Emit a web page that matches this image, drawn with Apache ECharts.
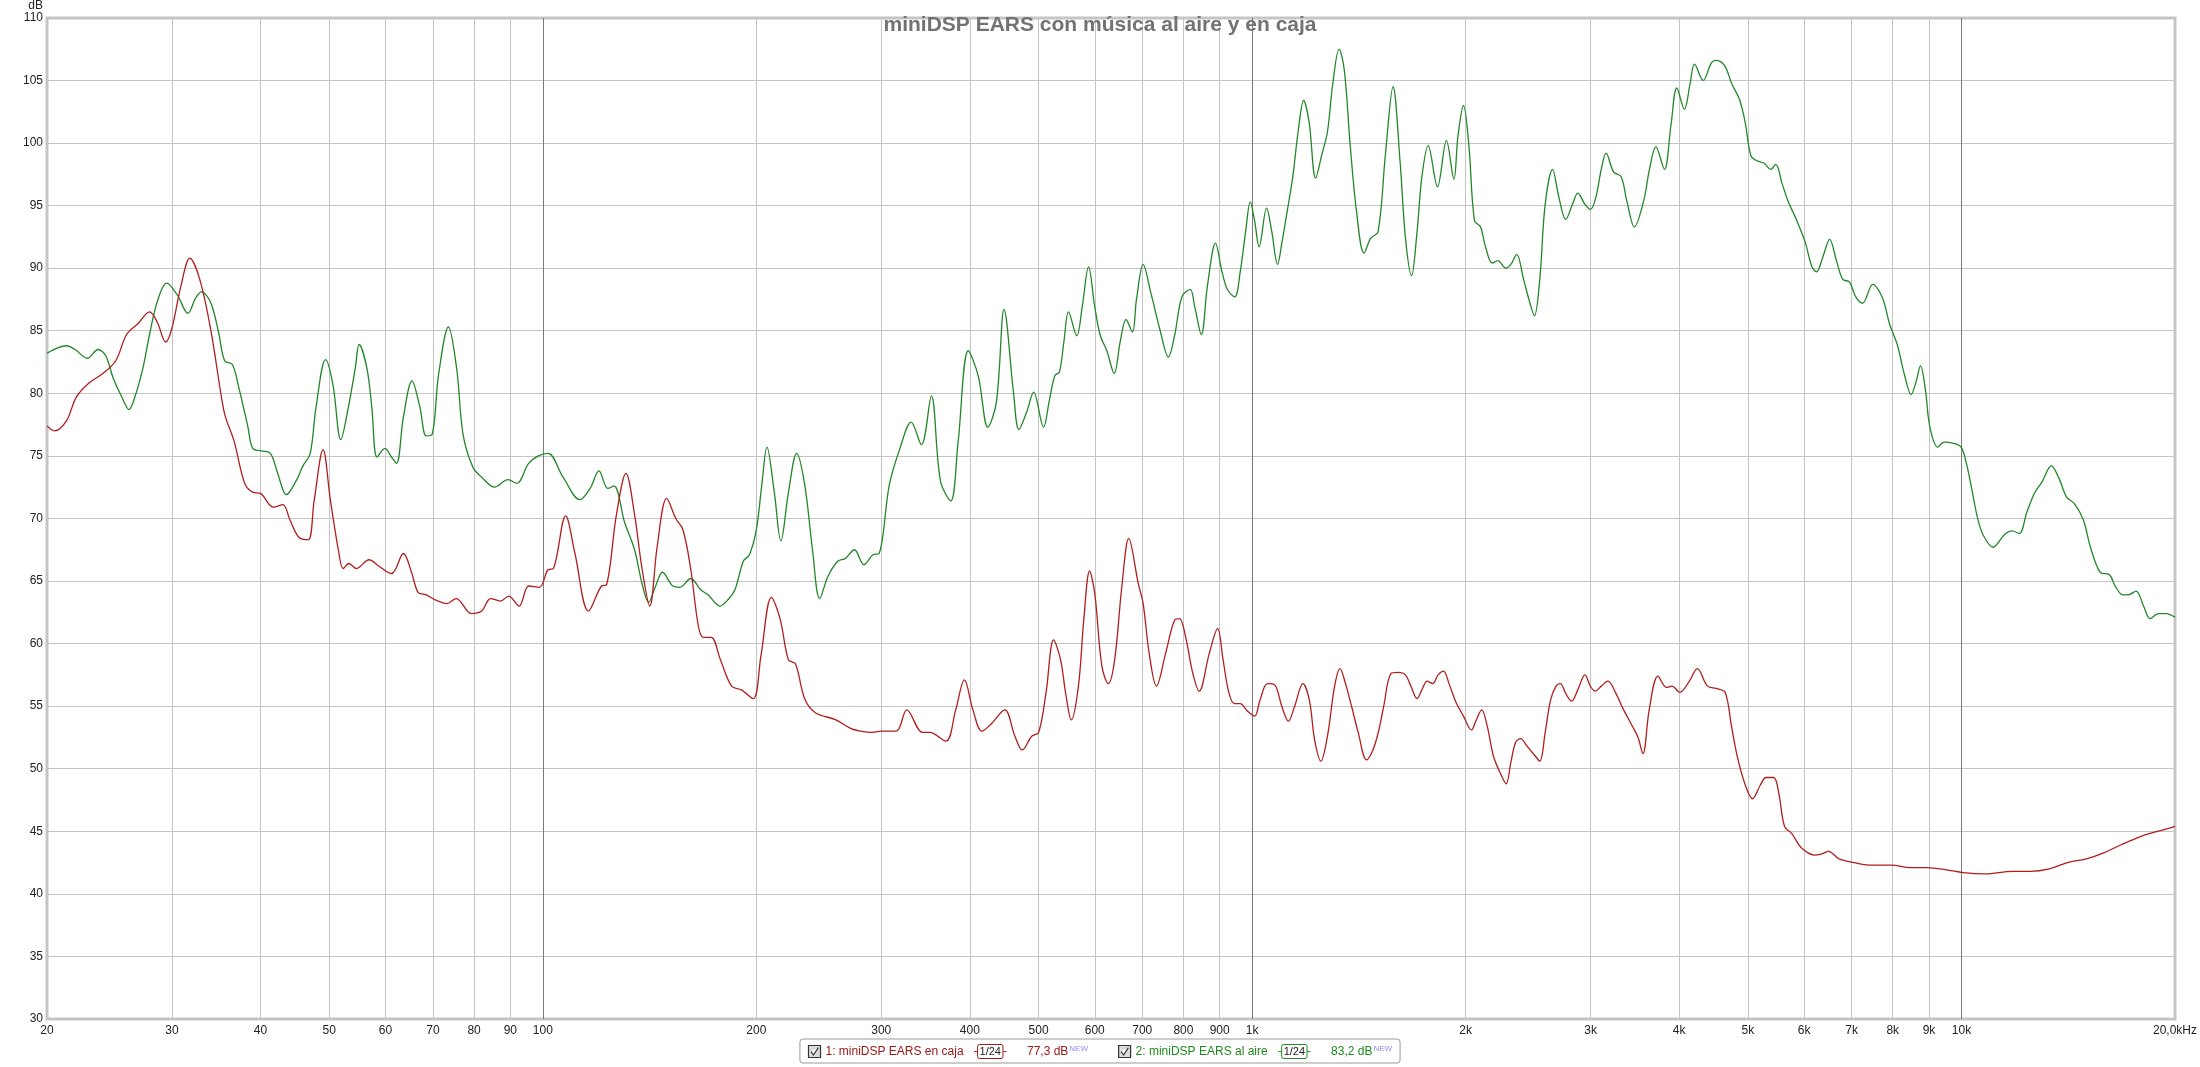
<!DOCTYPE html>
<html><head><meta charset="utf-8">
<script src="https://cdn.jsdelivr.net/npm/echarts@6/dist/echarts.min.js"></script>
<style>html,body{margin:0;padding:0;background:#fff}#c{width:2200px;height:1067px}</style>
</head><body><div id="c"></div>
<script>
const titleText = 'miniDSP EARS con música al aire y en caja';
const seriesNames = ['1: miniDSP EARS en caja', '2: miniDSP EARS al aire'];
const seriesLevels = ['77,3 dB', '83,2 dB'];
const tickFreqs = [20,30,40,50,60,70,80,90,100,200,300,400,500,600,700,800,900,1000,2000,3000,4000,5000,6000,7000,8000,9000,10000,20000];
const tickLabels = ['20','30','40','50','60','70','80','90','100','200','300','400','500','600','700','800','900','1k','2k','3k','4k','5k','6k','7k','8k','9k','10k','20,0kHz'];

const cajaFreq = [20,20.5,21.3,22,22.9,24,25,25.9,26.9,27.9,28.6,29.4,30,30.9,31.8,32.8,34,35.3,35.7,36.7,38,39,40,41.7,43,44,45.3,46.7,47.6,49,50.2,51.6,52.3,53.3,54.6,56.9,58.7,61.2,63.6,65.3,66.7,68.5,70.5,73.3,75.5,79.3,82,84.4,87.2,89.5,92.6,95.5,98.9,101.7,103.5,107.7,111,116,121,123,127,131,134.7,138,141.5,145,149.5,154,157.6,161.6,165.7,168.4,172.7,178,184.6,190.5,198,203,210,216,222,227,234,242,259,272,281,290,300,315,326,343,351,370,382,393,404,416,429,448,463,474,489,500,512,525,537,546,556,569,579,590,600,614,627,640,655,670,691,702,716,733,755,778,790,806,825,842,870,894,910,928,945,962,985,1008,1026,1051,1076,1101,1125,1148,1179,1204,1225,1250,1277,1307,1330,1354,1378,1411,1450,1480,1506,1533,1569,1606,1645,1674,1708,1735,1765,1797,1829,1861,1895,1935,1986,2038,2070,2107,2145,2189,2236,2281,2316,2352,2391,2441,2500,2544,2589,2635,2682,2720,2768,2821,2878,2946,2998,3045,3106,3174,3252,3333,3436,3500,3556,3631,3734,3837,3909,4007,4135,4242,4385,4518,4644,4740,4829,4950,5075,5206,5303,5436,5529,5630,5770,5941,6202,6358,6494,6720,7056,7410,7968,8472,8950,9570,10049,10800,11800,12500,13300,14100,15000,15900,16900,18100,19200,20000];
const cajaDb = [77.4,77.0,77.8,79.7,80.8,81.6,82.6,84.7,85.6,86.5,85.7,84.1,85.2,88.6,90.8,89.2,85.2,79.4,78.1,76.2,72.8,72.1,72.0,70.9,71.1,69.9,68.5,68.3,71.4,75.5,71.4,67.2,66.0,66.4,66.0,66.7,66.2,65.6,67.2,65.7,64.1,63.9,63.5,63.2,63.6,62.4,62.6,63.6,63.4,63.8,63.0,64.6,64.5,65.9,66.0,70.2,67.2,62.6,64.6,64.7,70.3,73.6,70.3,66.0,63.0,67.8,71.6,70.0,69.1,66.0,61.4,60.5,60.5,58.7,56.6,56.3,55.6,59.0,63.7,62.0,58.7,58.4,55.6,54.5,53.9,53.2,53.0,52.9,53.0,53.0,54.7,52.9,52.9,52.2,54.7,57.1,54.7,53.0,53.6,54.7,52.6,51.5,52.6,52.9,56.0,60.3,58.7,56.0,53.9,56.6,61.9,65.8,64.0,58.2,56.8,58.7,64.5,68.4,64.8,63.2,59.2,56.6,59.2,61.9,62.0,60.5,57.6,56.2,59.2,61.2,58.7,56.0,55.2,55.2,54.6,54.2,55.5,56.8,56.7,55.0,53.8,55.0,56.8,55.5,52.3,50.6,52.6,56.6,58.0,56.8,55.2,52.9,50.7,51.5,52.9,55.0,57.6,57.7,57.5,56.6,55.6,56.3,57.0,56.8,57.5,57.8,56.8,55.4,54.2,53.1,53.9,54.7,53.4,51.0,49.7,48.8,50.5,52.1,52.4,51.8,51.1,50.6,52.9,55.5,56.6,56.8,56.0,55.4,56.3,57.5,56.6,56.2,56.6,57.0,56.1,54.8,53.4,52.5,51.2,54.8,57.4,56.5,56.6,56.1,57.0,58.0,56.6,56.4,56.1,53.4,51.0,48.8,47.6,48.7,49.3,49.3,48.0,45.4,44.8,43.7,43.1,43.2,43.4,42.8,42.5,42.3,42.3,42.1,42.1,41.9,41.7,41.6,41.8,41.8,42.0,42.5,42.8,43.3,44.0,44.7,45.1,45.4];

const aireFreq = [20,21.3,21.9,22.8,23.6,24.2,24.8,25.5,26.1,26.6,27.3,27.9,28.6,29.5,30.5,31.6,32.4,33,34,34.9,35.6,36.5,37.3,38.4,39,40.1,41.3,42.3,43.5,44.9,45.9,47,47.9,49.4,50.6,51.9,53.2,54.4,55.1,56.5,57.4,58.4,59.9,61.2,62.2,63.6,65.4,67.1,68.5,69.8,71.3,73.6,75.6,77.2,79.7,82,85.5,89.3,91.9,95.5,98.6,101.7,106.8,112.8,116.6,120,123.5,126,130.4,134.7,138,141,144,147.5,152.5,156,161.6,167,171,177.7,183,186.6,191.8,195.6,200,203.6,207,212,216.6,222,228,234,240,245.7,252.5,260.7,267,275,283.5,292,298,308,318.4,330.6,341.8,353,363.6,376,385,398,411,424,436,447,461,469,481,492,508,518,527,535,543,551,566,576,588,600,611,624,639,652,664,678,687,702,720,742,762,778,796,818,830,848,865,888,907,923,945,962,979,994,1008,1023,1048,1066,1086,1102,1121,1141,1161,1182,1203,1229,1254,1277,1299,1326,1349,1375,1403,1438,1470,1505,1542,1580,1617,1645,1678,1708,1735,1771,1825,1879,1925,1951,1986,2021,2058,2099,2131,2181,2219,2278,2316,2360,2414,2456,2500,2544,2589,2652,2706,2768,2829,2878,2946,3000,3053,3106,3155,3232,3313,3374,3458,3565,3632,3708,3813,3894,3970,4068,4143,4204,4324,4441,4506,4633,4747,4864,4954,5047,5138,5267,5383,5474,5584,5700,5840,6020,6147,6245,6385,6518,6665,6802,6952,7096,7255,7497,7730,7922,8118,8318,8491,8628,8755,8895,9026,9260,9454,9747,9988,10172,10360,10550,10747,11080,11495,11778,12067,12364,12670,12980,13390,13725,14070,14420,14850,15220,15690,16170,16470,16880,17190,17620,18060,18450,18950,19430,20000];
const aireDb = [83.2,83.8,83.5,82.8,83.5,83.0,81.2,79.7,78.7,79.7,82.0,84.7,87.3,88.8,87.9,86.4,87.6,88.1,87.3,84.9,82.6,82.3,80.4,77.3,75.6,75.4,75.2,73.6,71.9,73.0,74.2,75.2,78.9,82.7,80.7,76.3,78.9,82.0,83.9,82.0,78.9,74.9,75.6,74.9,74.4,78.1,81.0,78.9,76.6,76.7,81.5,85.3,82.0,76.7,74.1,73.3,72.5,73.1,72.8,74.4,75.0,75.2,73.3,71.5,72.4,73.8,72.4,72.6,69.7,67.5,64.8,63.3,64.5,65.7,64.6,64.5,65.2,64.3,63.9,63.0,63.6,64.3,66.6,67.1,69.1,72.7,75.7,72.1,68.2,72.1,75.2,72.7,67.5,63.6,65.4,66.6,66.8,67.5,66.3,67.1,67.2,72.7,75.5,77.7,75.9,79.8,73.0,71.4,76.1,83.4,81.4,77.3,79.3,86.7,80.0,77.1,78.5,80.1,77.3,79.5,81.4,81.7,84.2,86.5,84.6,86.9,90.1,86.9,84.6,83.4,81.6,84.2,85.9,84.9,87.5,90.3,88.0,85.0,82.9,84.7,87.7,88.3,86.9,84.7,88.6,92.0,89.7,88.3,87.7,89.7,92.9,95.3,93.8,91.7,94.8,92.9,90.3,92.1,94.6,97.3,100.9,103.4,101.7,97.2,99.1,100.9,104.7,107.5,105.8,99.8,94.6,91.2,92.4,92.9,99.2,104.5,98.4,92.4,89.4,92.9,97.3,99.8,96.5,100.2,97.1,100.6,103.0,99.8,93.8,93.3,91.8,90.4,90.6,90.0,90.3,91.1,89.1,87.5,86.2,89.1,95.1,97.9,95.7,93.9,95.1,96.0,95.1,94.7,95.7,97.9,99.2,97.7,97.3,95.4,93.3,95.4,97.9,99.7,97.9,101.4,104.4,102.7,104.7,106.3,105.0,106.4,106.6,106.2,104.7,103.5,101.7,99.0,98.6,98.4,97.9,98.3,96.8,95.3,94.0,92.1,90.2,89.7,91.0,92.3,90.6,89.1,88.9,87.7,87.2,88.7,87.7,85.5,83.9,81.4,79.9,80.9,82.2,80.3,77.3,75.7,76.1,76.0,75.7,74.3,72.1,69.9,68.6,67.7,68.7,69.0,68.8,70.5,72.0,72.9,74.2,73.2,71.7,71.2,69.9,67.6,65.7,65.5,64.6,63.9,63.9,64.2,63.0,62.0,62.4,62.4,62.1];

const FONT = '"Liberation Sans", Arial, sans-serif';
const lg = Math.log10;
const toPairs = (fs, ds) => fs.map((f, i) => [lg(f), ds[i]]);
const tickVals = tickFreqs.map(lg);
const gridColors = ['#c4c4c4','#c4c4c4','#c4c4c4','#c4c4c4','#c4c4c4','#c4c4c4','#c4c4c4','#c4c4c4','#7a7a7a'];

const chart = echarts.init(document.getElementById('c'), null, {renderer: 'canvas'});
const checkIcon = 'path://M0,0H12V12H0Z M2.5,6.2L5,9.5L9.8,2.2';
chart.setOption({
  animation: false,
  backgroundColor: '#ffffff',
  title: {
    text: titleText, left: 'center', top: 15, padding: 0,
    textStyle: {fontFamily: FONT, fontSize: 21, fontWeight: 'bold', color: '#727272'}
  },
  grid: {left: 47, right: 23, top: 14, bottom: 48, show: true, borderColor: '#c6c6c6', borderWidth: 3, backgroundColor: 'transparent'},
  xAxis: {
    type: 'value', min: lg(20), max: lg(20000),
    axisLine: {show: false},
    axisTick: {show: false, customValues: tickVals},
    axisLabel: {
      customValues: tickVals, color: '#222', fontFamily: FONT, fontSize: 12, margin: 6,
      formatter: function (v) {
        let best = 0, bd = 1e9;
        tickVals.forEach((t, i) => { const d = Math.abs(t - v); if (d < bd) { bd = d; best = i; } });
        return tickLabels[best];
      }
    },
    splitLine: {show: true, lineStyle: {color: gridColors, width: 1}}
  },
  yAxis: {
    type: 'value', min: 30, max: 110, interval: 5,
    name: 'dB', nameLocation: 'end', nameGap: 4,
    nameTextStyle: {fontFamily: FONT, fontSize: 12, color: '#222', align: 'right', verticalAlign: 'bottom', padding: [0, 4, 0, 0]},
    axisLine: {show: false}, axisTick: {show: false},
    axisLabel: {color: '#222', fontFamily: FONT, fontSize: 12, margin: 4},
    splitLine: {show: true, lineStyle: {color: '#c4c4c4', width: 1}}
  },
  legend: {
    left: 'center', top: 1039, orient: 'horizontal',
    backgroundColor: '#fff', borderColor: '#9a9a9a', borderWidth: 1, borderRadius: 3,
    padding: [5, 8, 4, 8], itemGap: 30, itemWidth: 12, itemHeight: 12,
    data: [
      {name: seriesNames[0], icon: checkIcon, itemStyle: {color: '#dcdcdc', borderColor: '#333', borderWidth: 1.2}, textStyle: {color: '#a01818'}},
      {name: seriesNames[1], icon: checkIcon, itemStyle: {color: '#dcdcdc', borderColor: '#333', borderWidth: 1.2}, textStyle: {color: '#1e8a1e'}}
    ],
    formatter: function (name) {
      const i = seriesNames.indexOf(name);
      const k = i === 0 ? 'r' : 'g';
      return name + '   {' + k + 'd|-}{' + k + 'b|1/24}{' + k + 'd|-}      {' + k + 'v|' + seriesLevels[i] + '}{nw|NEW}';
    },
    textStyle: {
      fontFamily: FONT, fontSize: 12,
      rich: {
        rd: {color: '#a01818', fontSize: 12, fontFamily: FONT},
        gd: {color: '#1e8a1e', fontSize: 12, fontFamily: FONT},
        rb: {color: '#222', fontSize: 11, fontFamily: FONT, borderColor: '#a01818', borderWidth: 1, borderRadius: 2, padding: [2, 2, 1, 2]},
        gb: {color: '#222', fontSize: 11, fontFamily: FONT, borderColor: '#1e8a1e', borderWidth: 1, borderRadius: 2, padding: [2, 2, 1, 2]},
        rv: {color: '#a01818', fontSize: 12, fontFamily: FONT},
        gv: {color: '#1e8a1e', fontSize: 12, fontFamily: FONT},
        nw: {color: '#8c8cff', fontSize: 8, fontFamily: FONT, verticalAlign: 'top', padding: [0, 0, 6, 1]}
      }
    }
  },
  series: [
    {name: seriesNames[0], type: 'line', data: toPairs(cajaFreq, cajaDb), symbol: 'none', smooth: 0.35,
     lineStyle: {color: '#b01e1e', width: 1.3}, itemStyle: {color: '#b01e1e'}, z: 3},
    {name: seriesNames[1], type: 'line', data: toPairs(aireFreq, aireDb), symbol: 'none', smooth: 0.35,
     lineStyle: {color: '#22862a', width: 1.3}, itemStyle: {color: '#22862a'}, z: 2}
  ]
});
</script></body></html>
